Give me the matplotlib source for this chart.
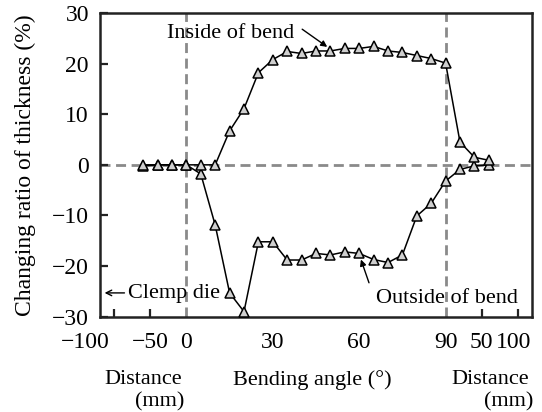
import matplotlib
matplotlib.use("Agg")
import matplotlib.pyplot as plt
from matplotlib.transforms import ScaledTranslation
import numpy as np

plt.rcParams['font.family'] = ['Liberation Serif', 'DejaVu Serif']
plt.rcParams['axes.unicode_minus'] = True

# measuring positions
left_mm = [-60, -40, -20]                      # clamp die side, distance (mm)
angles = [0, 5, 10, 15, 20, 25, 30, 35, 40, 45,
          50, 55, 60, 65, 70, 75, 80, 85, 90]  # bending angle (deg)
right_mm = [20, 40, 60]                        # straight part after bend (mm)

# changing ratio of thickness (%)
inside_left = [0.0, 0.0, 0.0]
inside_bend = [0.0, 0.0, 0.0, 6.7, 11.1, 18.2, 20.8, 22.4, 22.0, 22.5,
               22.5, 23.0, 23.0, 23.4, 22.5, 22.2, 21.6, 21.0, 20.1]
inside_right = [4.5, 1.5, 0.9]

outside_left = [-0.2, 0.0, 0.0]
outside_bend = [0.0, -1.8, -11.9, -25.3, -29.0, -15.2, -15.2, -18.8, -18.8, -17.5,
                -17.8, -17.2, -17.5, -18.7, -19.3, -17.8, -10.1, -7.6, -3.2]
outside_right = [-0.9, -0.2, 0.0]

dist_ticks_left = [-100, -50]
angle_ticks = [0, 30, 60, 90]
dist_ticks_right = [50, 100]

MM = 0.25  # axis units per mm on the distance segments


def to_axis(left, ang, right):
    return np.concatenate([np.array(left) * MM, np.array(ang, float),
                           90 + np.array(right) * MM])


x = to_axis(left_mm, angles, right_mm)
y_in = np.concatenate([inside_left, inside_bend, inside_right])
y_out = np.concatenate([outside_left, outside_bend, outside_right])

fig = plt.figure(figsize=(5.42, 4.12), dpi=100)
ax = fig.add_axes([100 / 542, 1 - 316.7 / 412, 432 / 542, 303.7 / 412])

# reference dashed lines
ax.axhline(0, color='#8a8a8a', lw=2, ls=(0, (3.6, 2.0)), zorder=1)
ax.axvline(0, color='#8a8a8a', lw=2, ls=(0, (3.6, 2.0)), zorder=1)
ax.axvline(90, color='#8a8a8a', lw=2, ls=(0, (3.6, 2.0)), zorder=1)

style = dict(color='black', lw=1.1, marker='^', ms=7, mfc='#cfcfcf',
             mec='black', mew=1.1, clip_on=False, zorder=3)
ax.plot(x, y_out, **style)
ax.plot(x, y_in, **style)

ax.set_xlim(-30, 120)
ax.set_ylim(-30, 30)
ax.set_yticks([-30, -20, -10, 0, 10, 20, 30])

xt = ([v * MM for v in dist_ticks_left] + angle_ticks +
      [90 + v * MM for v in dist_ticks_right])
xl = ['\u2212100', '\u221250'] + [str(a) for a in angle_ticks] + ['50', '100']
ax.set_xticks(xt)
ax.set_xticklabels(xl)

ax.tick_params(axis='both', direction='in', length=6, width=1.6,
               labelsize=17, color='#222222')
ax.tick_params(axis='y', pad=8)
ax.tick_params(axis='x', pad=11)
for t, v in zip(ax.xaxis.get_major_ticks(), xt):
    if 0 <= v <= 90:
        t.tick1line.set_visible(False)

lab = ax.get_xticklabels()
lab[0].set_transform(lab[0].get_transform() +
                     ScaledTranslation(-0.29, 0, fig.dpi_scale_trans))
lab[-1].set_transform(lab[-1].get_transform() +
                      ScaledTranslation(-0.04, 0, fig.dpi_scale_trans))

for s in ax.spines.values():
    s.set_linewidth(1.8)
    s.set_color('#222222')

ax.set_ylabel('Changing ratio of thickness (%)', fontsize=17)
ax.yaxis.set_label_coords(-0.148, 0.5)

# annotations
arrow = dict(arrowstyle='-|>', color='black', lw=1,
             mutation_scale=9, shrinkA=0, shrinkB=0)
ax.text(15.2, 25.9, 'Inside of bend', fontsize=16, ha='center', va='center')
ax.annotate('', xy=(48.9, 23.3), xytext=(40.2, 26.8), arrowprops=arrow)
ax.text(90.3, -26.4, 'Outside of bend', fontsize=16, ha='center', va='center')
ax.annotate('', xy=(60.6, -18.7), xytext=(63.4, -23.3), arrowprops=arrow)
ax.annotate('', xy=(-28.4, -25.3), xytext=(-21.5, -25.3),
            arrowprops=dict(arrowstyle='->,head_length=0.4,head_width=0.2',
                            color='black', lw=1, shrinkA=0, shrinkB=0))
ax.text(-20.4, -25.5, 'Clemp die', fontsize=16, ha='left', va='center')

# axis segment titles
fig.text(182 / 542, 1 - 380 / 412, 'Distance', fontsize=16, ha='right', va='center')
fig.text(184 / 542, 1 - 401.5 / 412, '(mm)', fontsize=16, ha='right', va='center')
fig.text(312 / 542, 1 - 380 / 412, 'Bending angle (\u00b0)', fontsize=16,
         ha='center', va='center')
fig.text(529 / 542, 1 - 380 / 412, 'Distance', fontsize=16, ha='right', va='center')
fig.text(533 / 542, 1 - 401.5 / 412, '(mm)', fontsize=16, ha='right', va='center')

fig.savefig('out.png', dpi=100)
